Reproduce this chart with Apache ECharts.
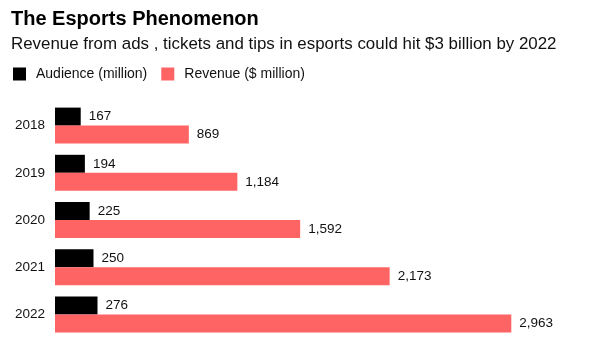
<!DOCTYPE html>
<html><head><meta charset="utf-8">
<script src="https://cdn.jsdelivr.net/npm/echarts@6/dist/echarts.min.js"></script>
<style>html,body{margin:0;padding:0;background:#fff}#c{width:593px;height:354px}</style>
</head><body><div id="c"></div>
<script>
const years = ['2018','2019','2020','2021','2022'];
const audience = [167,194,225,250,276];
const revenue = [869,1184,1592,2173,2963];
const seriesNames = ['Audience (million)','Revenue ($ million)'];

const fmt = v => v.toLocaleString('en-US');
const chart = echarts.init(document.getElementById('c'));
const font = '"Liberation Sans", Arial, Helvetica, sans-serif';
chart.setOption({
  animation:false,
  textStyle:{fontFamily:font},
  title:[
    {text:'The Esports Phenomenon', left:11, top:9, padding:0, textStyle:{fontFamily:font,fontSize:20,fontWeight:'bold',color:'#000'}},
    {text:'Revenue from ads , tickets and tips in esports could hit $3 billion by 2022', left:11, top:36, padding:0, textStyle:{fontFamily:font,fontSize:16.9,fontWeight:'normal',color:'#111'}}
  ],
  legend:{left:13, top:67, padding:0, itemWidth:13, itemHeight:13, itemGap:14, icon:'rect',
    textStyle:{fontFamily:font,fontSize:14,color:'#111',padding:[0,0,0,5]},
    data:seriesNames},
  grid:{left:55, top:102, width:462, height:236, containLabel:false},
  xAxis:{type:'value', min:0, max:3000, show:false},
  yAxis:{type:'category', data:years, inverse:true,
    axisLine:{show:false}, axisTick:{show:false},
    axisLabel:{fontFamily:font,fontSize:13.5,color:'#111',margin:10}},
  series:[
    {name:seriesNames[0], type:'bar', data:audience, barWidth:18, barGap:'0%', itemStyle:{color:'#000'},
     label:{show:true, position:'right', distance:8, fontFamily:font, fontSize:13.5, color:'#111', formatter:p=>fmt(p.value)}},
    {name:seriesNames[1], type:'bar', data:revenue, barWidth:18, barGap:'0%', itemStyle:{color:'#ff6464'},
     label:{show:true, position:'right', distance:8, fontFamily:font, fontSize:13.5, color:'#111', formatter:p=>fmt(p.value)}}
  ]
});
</script></body></html>
